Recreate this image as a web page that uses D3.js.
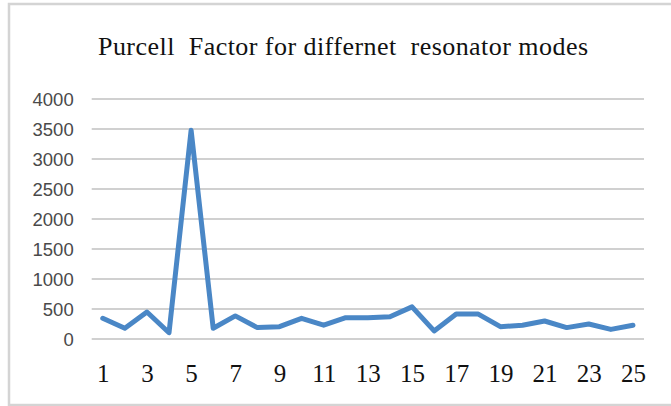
<!DOCTYPE html>
<html>
<head>
<meta charset="utf-8">
<script src="https://cdn.jsdelivr.net/npm/d3@7"></script>
<style>
  html, body { margin: 0; padding: 0; background: #fff; }
  svg { display: block; }
</style>
</head>
<body>
<svg id="chart" width="671" height="406"></svg>
<script>
// Resonator mode numbers and the Purcell factor computed for each
const modes = d3.range(1, 26);
const purcell = [345, 180, 450, 105, 3480, 180, 385, 190, 205, 345,
                 230, 355, 355, 372, 535, 135, 415, 415, 205, 230,
                 300, 190, 250, 160, 228];
const yTicks = [0, 500, 1000, 1500, 2000, 2500, 3000, 3500, 4000];
const xTickLabels = modes.filter(m => m % 2 === 1);
const titleText = "Purcell  Factor for differnet  resonator modes";

const svg = d3.select("#chart");

// Chart frame
svg.append("rect")
  .attr("x", 9).attr("y", 4)
  .attr("width", 700).attr("height", 401)
  .attr("fill", "#fff")
  .attr("stroke", "#d4d4d4")
  .attr("stroke-width", 2.5);

const plot = { left: 91.7, right: 644, top: 99, bottom: 339 };

const x = d3.scalePoint()
  .domain(modes)
  .range([plot.left, plot.right])
  .padding(0.5);

const y = d3.scaleLinear()
  .domain([0, 4000])
  .range([plot.bottom, plot.top]);

// Title
svg.append("text")
  .attr("x", 343).attr("y", 55)
  .attr("text-anchor", "middle")
  .attr("font-family", "'Liberation Serif', 'Times New Roman', serif")
  .attr("font-size", 26)
  .attr("fill", "#111")
  .attr("textLength", 490)
  .attr("lengthAdjust", "spacing")
  .style("white-space", "pre")
  .text(titleText);

// Horizontal gridlines
svg.append("g")
  .selectAll("line")
  .data(yTicks)
  .join("line")
  .attr("x1", plot.left).attr("x2", plot.right)
  .attr("y1", d => y(d)).attr("y2", d => y(d))
  .attr("stroke", "#d0d0d0")
  .attr("stroke-width", 2.2);

// Value axis labels
const yAxis = d3.axisLeft(y)
  .tickValues(yTicks)
  .tickFormat(d3.format("d"))
  .tickSize(0)
  .tickPadding(0);
const gy = svg.append("g")
  .attr("transform", `translate(${plot.left - 18},0)`)
  .call(yAxis);
gy.select(".domain").remove();
gy.selectAll("text")
  .attr("font-family", "'Liberation Sans', Arial, sans-serif")
  .attr("font-size", 18.5)
  .attr("fill", "#4a4a4a")
  .attr("dy", "0.35em");

// Category axis labels (every other mode)
const xAxis = d3.axisBottom(x).tickValues(xTickLabels).tickSize(0).tickPadding(0);
const gx = svg.append("g")
  .attr("transform", `translate(0,${plot.bottom + 43})`)
  .call(xAxis);
gx.select(".domain").remove();
gx.selectAll("text")
  .attr("font-family", "'Liberation Serif', 'Times New Roman', serif")
  .attr("font-size", 25)
  .attr("fill", "#111")
  .attr("dy", 0);

// Data line
const line = d3.line()
  .x((d, i) => x(modes[i]))
  .y(d => y(d));

svg.append("path")
  .datum(purcell)
  .attr("d", line)
  .attr("fill", "none")
  .attr("stroke", "#4a87c6")
  .attr("stroke-width", 5)
  .attr("stroke-linejoin", "round")
  .attr("stroke-linecap", "round");
</script>
</body>
</html>
